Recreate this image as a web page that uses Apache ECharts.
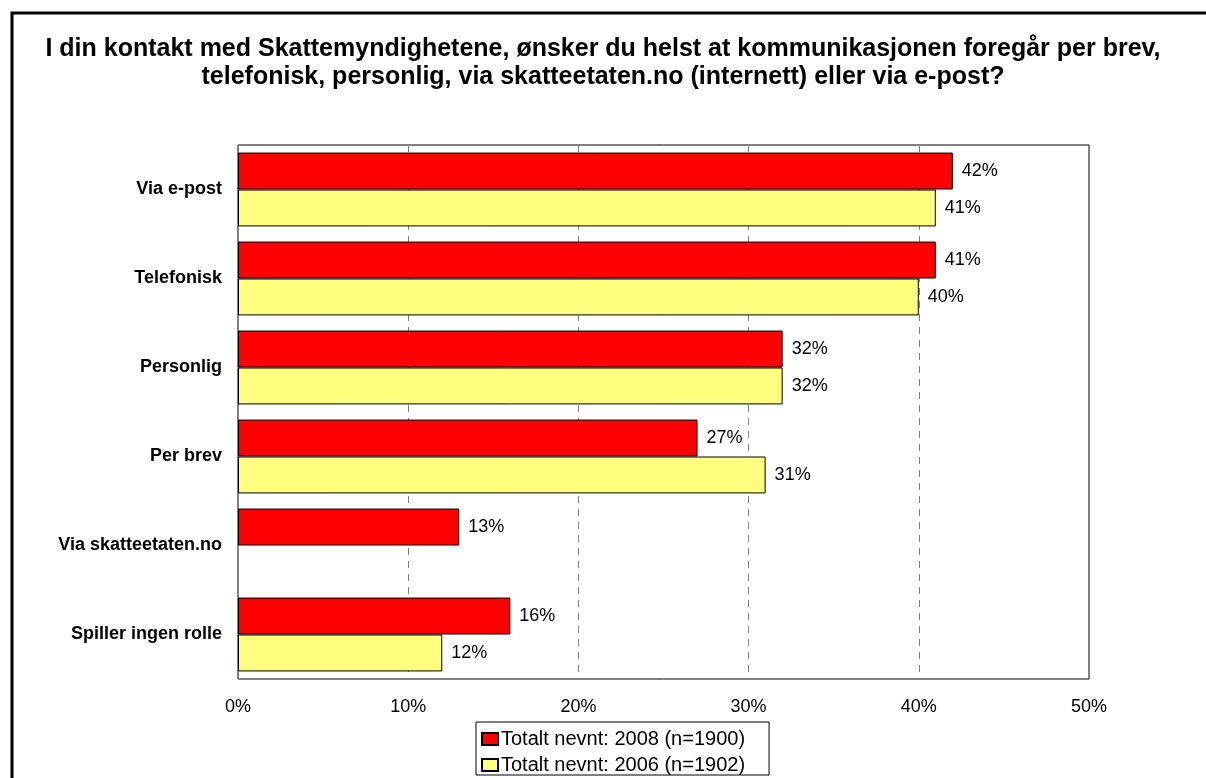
<!DOCTYPE html>
<html>
<head>
<meta charset="utf-8">
<script src="https://cdn.jsdelivr.net/npm/echarts@6/dist/echarts.min.js"></script>
<style>
  html, body { margin: 0; padding: 0; background: #fff; }
  #chart1 { width: 1206px; height: 778px; }
</style>
</head>
<body>
<div id="chart1"></div>
<script>
// categories, top to bottom
var categories = ['Via e-post', 'Telefonisk', 'Personlig', 'Per brev', 'Via skatteetaten.no', 'Spiller ingen rolle'];
var values2008 = [42, 41, 32, 27, 13, 16];
var values2006 = [41, 40, 32, 31, null, 12];
var seriesNames = ['Totalt nevnt: 2008 (n=1900)', 'Totalt nevnt: 2006 (n=1902)'];
var xTicks = [0, 10, 20, 30, 40, 50];

var myChart = echarts.init(document.getElementById('chart1'));

var labelStyle = {
    show: true,
    position: 'right',
    distance: 9,
    formatter: function (p) { return p.value == null ? '' : p.value + '%'; },
    color: '#000',
    fontFamily: 'Liberation Sans, Arial',
    fontSize: 18
};

option = {
    animation: false,
    title: {
        text: 'I din kontakt med Skattemyndighetene, ønsker du helst at kommunikasjonen foregår per brev,\ntelefonisk, personlig, via skatteetaten.no (internett) eller via e-post?',
        left: 'center',
        top: 30,
        textStyle: {
            fontFamily: 'Liberation Sans, Arial',
            fontWeight: 'bold',
            fontSize: 25,
            lineHeight: 28,
            color: '#000'
        }
    },
    graphic: [{
        type: 'rect',
        shape: { x: 12, y: 13, width: 1250, height: 800 },
        style: { fill: null, stroke: '#000', lineWidth: 3 },
        silent: true
    }],
    legend: {
        orient: 'vertical',
        left: 476,
        top: 722,
        padding: [7, 24, 0, 5],
        itemGap: 6,
        itemWidth: 16,
        itemHeight: 12,
        borderColor: '#000',
        borderWidth: 1,
        borderRadius: 0,
        icon: 'rect',
        textStyle: {
            fontFamily: 'Liberation Sans, Arial',
            fontSize: 20,
            color: '#000',
            padding: [0, 0, 0, -2]
        },
        data: seriesNames
    },
    grid: {
        left: 238,
        top: 145,
        width: 851,
        height: 534,
        show: true,
        borderColor: '#000',
        borderWidth: 1,
        containLabel: false
    },
    xAxis: {
        type: 'value',
        min: xTicks[0],
        max: xTicks[xTicks.length - 1],
        interval: 10,
        axisLine: { show: false },
        axisTick: { show: false },
        axisLabel: {
            margin: 19,
            formatter: '{value}%',
            color: '#000',
            fontFamily: 'Liberation Sans, Arial',
            fontSize: 18
        },
        splitLine: {
            show: true,
            lineStyle: { color: '#808080', type: [7, 6], width: 1 }
        }
    },
    yAxis: {
        type: 'category',
        inverse: true,
        data: categories,
        axisLine: { show: false },
        axisTick: { show: false },
        axisLabel: {
            margin: 16,
            color: '#000',
            fontFamily: 'Liberation Sans, Arial',
            fontWeight: 'bold',
            fontSize: 18
        }
    },
    series: [
        {
            name: seriesNames[0],
            type: 'bar',
            data: values2008,
            barGap: '0%',
            barCategoryGap: '17%',
            itemStyle: { color: '#FF0000', borderColor: '#000', borderWidth: 1 },
            label: labelStyle
        },
        {
            name: seriesNames[1],
            type: 'bar',
            data: values2006,
            barGap: '0%',
            barCategoryGap: '17%',
            itemStyle: { color: '#FFFF80', borderColor: '#000', borderWidth: 1 },
            label: labelStyle
        }
    ]
};
myChart.setOption(option);
</script>
</body>
</html>
